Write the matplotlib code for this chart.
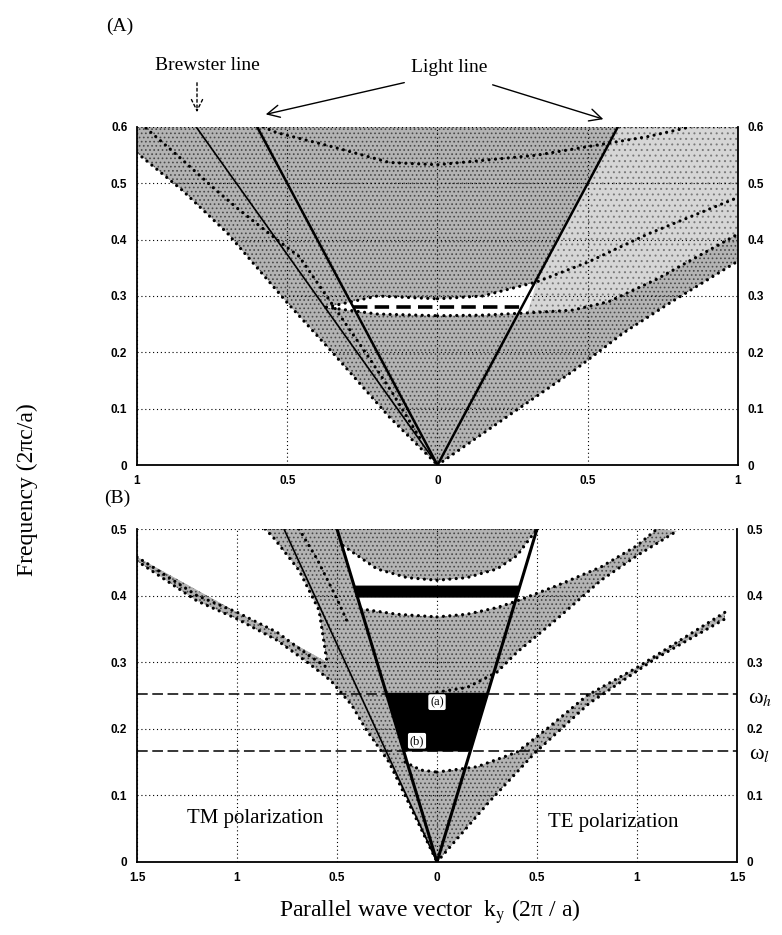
import matplotlib.pyplot as plt
from matplotlib.patches import Polygon

plt.rcParams['mathtext.fontset'] = 'stix'
plt.rcParams['hatch.linewidth'] = 0.7

W, H = 782, 935
SERIF = 'Liberation Serif'

# ---------------- panel (A) : k in 2pi/a, f in 2pi c/a, TM drawn at k<0 ----------------
a_xticks = [-1, -0.5, 0, 0.5, 1]
a_xlabels = ['1', '0.5', '0', '0.5', '1']
a_yticks = [0, 0.1, 0.2, 0.3, 0.4, 0.5, 0.6]

a_tm_low_k = [-1.0, -0.85, -0.7, -0.5, -0.35, -0.16, 0.0]
a_tm_low_f = [0.554, 0.488, 0.412, 0.288, 0.2, 0.085, 0.0]
a_tm_2_k = [-0.97, -0.86, -0.75, -0.66, -0.52, -0.46, -0.24, -0.15, -0.05]
a_tm_2_f = [0.598, 0.547, 0.494, 0.453, 0.394, 0.37, 0.2, 0.128, 0.04]
a_te_low_k = [0.0, 0.27, 0.46, 0.62, 0.78, 1.0]
a_te_low_f = [0.0, 0.10, 0.17, 0.235, 0.29, 0.362]
a_te_1top_k = [0.0, 0.15, 0.3, 0.45, 0.57, 0.73, 1.0]
a_te_1top_f = [0.265, 0.266, 0.27, 0.275, 0.29, 0.33, 0.41]
a_te_2low_k = [0.0, 0.15, 0.33, 0.5, 0.7, 1.0]
a_te_2low_f = [0.295, 0.3, 0.325, 0.36, 0.41, 0.475]
a_tm_gaplo_k = [-0.37, -0.2, 0.0]
a_tm_gaplo_f = [0.28, 0.268, 0.265]
a_tm_gaphi_k = [-0.37, -0.2, 0.0]
a_tm_gaphi_f = [0.28, 0.3, 0.295]
a_2top_k = [-0.58, -0.535, -0.35, -0.16, 0.0, 0.33, 0.7, 0.84]
a_2top_f = [0.6, 0.59, 0.565, 0.537, 0.533, 0.55, 0.583, 0.6]
a_light_k = [-0.6, 0.0, 0.6]
a_light_f = [0.6, 0.0, 0.6]
a_brew_k = [-0.803, 0.0]
a_brew_f = [0.6, 0.0]
a_dash_f = 0.28

# ---------------- panel (B) ----------------
b_xticks = [-1.5, -1, -0.5, 0, 0.5, 1, 1.5]
b_xlabels = ['1.5', '1', '0.5', '0', '0.5', '1', '1.5']
b_yticks = [0, 0.1, 0.2, 0.3, 0.4, 0.5]

b_te1_low_k = [0.0, 0.26, 0.49, 0.76, 1.09, 1.44]
b_te1_low_f = [0.0, 0.09, 0.164, 0.238, 0.305, 0.365]
b_te1_top_k = [0.0, 0.2, 0.4, 0.55, 0.75, 1.0, 1.2, 1.44]
b_te1_top_f = [0.135, 0.143, 0.165, 0.2, 0.25, 0.292, 0.33, 0.375]
b_te2_low_k = [0.0, 0.15, 0.3, 0.4, 0.6, 0.82, 1.0, 1.2]
b_te2_low_f = [0.255, 0.262, 0.285, 0.315, 0.365, 0.423, 0.46, 0.497]
b_te2_top_k = [0.0, 0.15, 0.3, 0.4, 0.6, 0.82, 1.0, 1.1]
b_te2_top_f = [0.368, 0.372, 0.382, 0.392, 0.415, 0.443, 0.475, 0.5]
b_te3_low_k = [0.0, 0.15, 0.3, 0.4, 0.5]
b_te3_low_f = [0.423, 0.427, 0.44, 0.46, 0.5]

b_tm_low_k = [-1.5, -1.2, -1.0, -0.8, -0.64, -0.53, -0.425, -0.357, -0.24, -0.12, 0.0]
b_tm_low_f = [0.452, 0.392, 0.365, 0.333, 0.298, 0.272, 0.235, 0.2, 0.15, 0.075, 0.0]
b_tm_top_k = [-1.5, -1.2, -1.0, -0.8, -0.64, -0.55]
b_tm_top_f = [0.458, 0.4, 0.375, 0.345, 0.31, 0.292]
b_tm_edge_k = [-0.86, -0.82, -0.69, -0.59, -0.55]
b_tm_edge_f = [0.5, 0.488, 0.438, 0.378, 0.3]
b_tm_in_k = [-0.69, -0.6, -0.5, -0.44]
b_tm_in_f = [0.5, 0.455, 0.395, 0.355]
b_tm1_top_k = [-0.16, -0.08, 0.0]
b_tm1_top_f = [0.15, 0.138, 0.135]
b_tm2_top_k = [-0.38, -0.2, 0.0]
b_tm2_top_f = [0.38, 0.372, 0.368]
b_tm3_low_k = [-0.47, -0.3, -0.15, 0.0]
b_tm3_low_f = [0.475, 0.44, 0.427, 0.423]

b_light_k = [-0.5, 0.0, 0.5]
b_light_f = [0.5, 0.0, 0.5]
b_brew_k = [-0.765, 0.0]
b_brew_f = [0.5, 0.0]
omega_l, omega_h = 0.167, 0.253
bar_lo, bar_hi = 0.398, 0.414

STIP = dict(facecolor='#b3b3b3', edgecolor='#4a4a4a', hatch='....', linewidth=0, zorder=1)
LIGHT = dict(facecolor='#d6d6d6', edgecolor='#7a7a7a', hatch='...', linewidth=0, zorder=1.1)
WHITE = dict(facecolor='white', edgecolor='none', linewidth=0, zorder=1.2)


def rect(l, t, r, b):
    return [l / W, 1 - b / H, (r - l) / W, (b - t) / H]


def band(ax, k1, f1, k2, f2, style):
    # closed region between edge 1 and edge 2 (both listed in the same direction)
    return ax.fill(list(k1) + list(k2)[::-1], list(f1) + list(f2)[::-1], **style)


def dots(ax, k, f):
    ax.plot(k, f, color='k', lw=2.3, linestyle=(0, (0.01, 2.0)),
            dash_capstyle='round', zorder=4)


def setup(ax, xt, xl, yt, xlim, ylim):
    ax.set_xlim(xlim)
    ax.set_ylim(ylim)
    ax.set_xticks(xt)
    ax.set_xticklabels(xl)
    ax.set_yticks(yt)
    ax.set_yticklabels(['0' if v == 0 else f'{v:g}' for v in yt])
    ax.tick_params(length=0, labelright=True, pad=7, labelsize=8.5)
    for lab in ax.get_xticklabels() + ax.get_yticklabels():
        lab.set_fontweight('bold')
        lab.set_family('Liberation Sans')
    ax.spines['top'].set_visible(False)
    for s in ['left', 'right', 'bottom']:
        ax.spines[s].set_linewidth(1.3)
    ax.grid(True, color='k', linestyle=(0, (1, 2.5)), linewidth=0.8)


fig = plt.figure(figsize=(W / 100, H / 100), dpi=100)

# ======================= panel A =======================
axA = fig.add_axes(rect(137, 127, 738, 465))
setup(axA, a_xticks, a_xlabels, a_yticks, (-1, 1), (0, 0.6))

# everything above the lowest TM / TE edges is allowed
band(axA, a_tm_low_k + a_te_low_k[1:], a_tm_low_f + a_te_low_f[1:],
     [-1, 1], [0.6, 0.6], STIP)
# lighter stipple above TE band 1, outside the light cone
outside = Polygon([(0, 0), (0.6, 0.6), (1, 0.6), (1, 0)], closed=True, transform=axA.transData)
for p in band(axA, a_te_1top_k, a_te_1top_f, [0.0, 1.0], [0.6, 0.6], LIGHT):
    p.set_clip_path(outside)
# gap at normal incidence
band(axA, a_tm_gaplo_k + a_te_1top_k[1:3], a_tm_gaplo_f + a_te_1top_f[1:3],
     a_tm_gaphi_k + a_te_2low_k[1:3], a_tm_gaphi_f + a_te_2low_f[1:3], WHITE)

for k, f in [(a_tm_low_k, a_tm_low_f), (a_tm_2_k, a_tm_2_f), (a_te_low_k, a_te_low_f),
             (a_te_1top_k, a_te_1top_f), (a_te_2low_k, a_te_2low_f),
             (a_tm_gaplo_k, a_tm_gaplo_f), (a_tm_gaphi_k, a_tm_gaphi_f),
             (a_2top_k, a_2top_f)]:
    dots(axA, k, f)

axA.plot(a_light_k, a_light_f, color='k', lw=1.8, zorder=5)
axA.plot(a_brew_k, a_brew_f, color='k', lw=1.2, zorder=5)
axA.plot([-a_dash_f, a_dash_f], [a_dash_f, a_dash_f], color='k', lw=2.6,
         linestyle=(0, (4, 2)), zorder=5)

# ======================= panel B =======================
axB = fig.add_axes(rect(137, 529, 737, 862))
setup(axB, b_xticks, b_xlabels, b_yticks, (-1.5, 1.5), (0, 0.5))

cone = Polygon(list(zip(b_light_k, b_light_f)), closed=True, transform=axB.transData)
band(axB, b_light_k, b_light_f, [], [], STIP)
band(axB, b_te1_low_k, b_te1_low_f, b_te1_top_k, b_te1_top_f, STIP)
band(axB, b_te2_low_k, b_te2_low_f, b_te2_top_k, b_te2_top_f, STIP)
# TM: narrow band at large k that widens into the strip around the Brewster line
band(axB, b_tm_low_k + b_light_k[:1] + b_tm_edge_k, b_tm_low_f + b_light_f[:1] + b_tm_edge_f,
     b_tm_top_k[:1], b_tm_top_f[:1], STIP)
axB.fill(b_tm_top_k + [b_tm_edge_k[-1]], b_tm_top_f + [b_tm_edge_f[-1]], **STIP)

# gaps inside the light cone
for p in band(axB, b_tm1_top_k + b_te1_top_k[1:], b_tm1_top_f + b_te1_top_f[1:],
              [-0.5, 0.5], [omega_h, omega_h], WHITE):
    p.set_clip_path(cone)
for p in band(axB, b_tm2_top_k + b_te2_top_k[1:], b_tm2_top_f + b_te2_top_f[1:],
              b_tm3_low_k + b_te3_low_k[1:], b_tm3_low_f + b_te3_low_f[1:], WHITE):
    p.set_clip_path(cone)

# omnidirectional reflection ranges (bounded by the light lines)
axB.fill([-omega_l, omega_l, omega_h, -omega_h], [omega_l, omega_l, omega_h, omega_h],
         color='k', zorder=3)
axB.fill([-bar_lo, bar_lo, bar_hi, -bar_hi], [bar_lo, bar_lo, bar_hi, bar_hi],
         color='k', zorder=3)

for k, f in [(b_te1_low_k, b_te1_low_f), (b_te1_top_k, b_te1_top_f),
             (b_te2_low_k, b_te2_low_f), (b_te2_top_k, b_te2_top_f),
             (b_te3_low_k, b_te3_low_f), (b_tm_low_k, b_tm_low_f),
             (b_tm_top_k, b_tm_top_f), (b_tm_edge_k, b_tm_edge_f),
             (b_tm_in_k, b_tm_in_f), (b_tm1_top_k, b_tm1_top_f),
             (b_tm2_top_k, b_tm2_top_f), (b_tm3_low_k, b_tm3_low_f)]:
    dots(axB, k, f)

axB.plot(b_light_k, b_light_f, color='k', lw=2.2, zorder=5)
axB.plot(b_brew_k, b_brew_f, color='k', lw=1.2, zorder=5)
for w in (omega_l, omega_h):
    axB.axhline(w, color='k', lw=1.1, linestyle=(0, (7, 3)), zorder=2.5)

axB.text(0.0, 0.24, '(a)', ha='center', va='center', fontsize=9, family=SERIF,
         zorder=6, bbox=dict(boxstyle='round,pad=0.15', fc='white', ec='none'))
axB.text(-0.1, 0.182, '(b)', ha='center', va='center', fontsize=9, family=SERIF,
         zorder=6, bbox=dict(boxstyle='round,pad=0.15', fc='white', ec='none'))

# ======================= text =======================
fig.text(120 / W, 1 - 26 / H, '(A)', ha='center', va='center', fontsize=14, family=SERIF)
fig.text(117 / W, 1 - 498 / H, '(B)', ha='center', va='center', fontsize=14, family=SERIF)
fig.text(207 / W, 1 - 65 / H, 'Brewster line', ha='center', va='center', fontsize=14, family=SERIF)
fig.text(449 / W, 1 - 68 / H, 'Light line', ha='center', va='center', fontsize=14, family=SERIF)
fig.text(255 / W, 1 - 818 / H, 'TM polarization', ha='center', va='center', fontsize=15, family=SERIF)
fig.text(613 / W, 1 - 822 / H, 'TE polarization', ha='center', va='center', fontsize=15, family=SERIF)
fig.text(760 / W, 1 - 698 / H, r'ω$_h$', ha='center', va='center', fontsize=16, family=SERIF)
fig.text(760 / W, 1 - 755 / H, r'ω$_l$', ha='center', va='center', fontsize=16, family=SERIF)
fig.text(27 / W, 1 - 490 / H, 'Frequency (2πc/a)', ha='center', va='center', rotation=90,
         fontsize=17, family=SERIF)
fig.text(430 / W, 1 - 912 / H, r'Parallel wave vector  k$_\mathrm{y}$ (2π / a)',
         ha='center', va='center', fontsize=17, family=SERIF)

arw = dict(arrowstyle='->', lw=1.0, color='k', mutation_scale=22)
axA.annotate('', xy=(263, H - 115), xytext=(407, H - 82), xycoords='figure pixels', arrowprops=arw)
axA.annotate('', xy=(606, H - 120), xytext=(490, H - 84), xycoords='figure pixels', arrowprops=arw)
axA.annotate('', xy=(197, H - 115), xytext=(197, H - 80), xycoords='figure pixels',
             arrowprops=dict(arrowstyle='->', lw=1.0, color='k', linestyle=(0, (2, 2)),
                             mutation_scale=20))

fig.savefig('out.png', dpi=100)
